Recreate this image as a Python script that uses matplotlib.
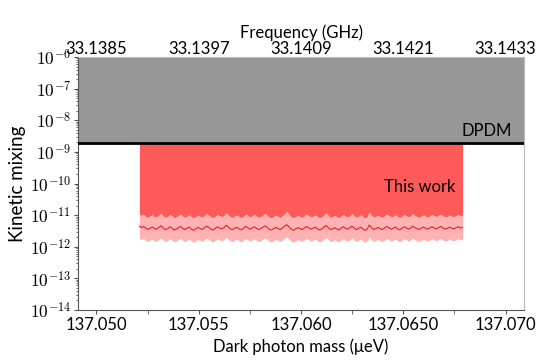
import numpy as np
import matplotlib
matplotlib.use("Agg")
import matplotlib.pyplot as plt

plt.rcParams['font.family'] = ['Lato', 'DejaVu Sans']
plt.rcParams['mathtext.fontset'] = 'cm'

# ---- data ----
xlim = (137.0491, 137.0709)
ylim = (1e-14, 1e-6)
dpdm_limit = 1.9e-9
scan_start = 137.0521
scan_end = 137.0679

median_e12 = [4.5, 4.0, 4.4, 3.8, 3.5, 3.9, 4.2, 3.7, 3.6, 4.1, 4.6, 3.9, 3.5, 3.7, 4.3, 3.9, 3.4, 3.6, 4.0, 4.4,
              3.8, 3.5, 3.9, 4.2, 3.6, 3.3, 3.7, 4.1, 3.8, 3.5, 4.0, 4.5, 4.1, 3.6, 3.4, 3.8, 4.3, 3.9, 3.7, 4.0,
              4.8, 4.2, 3.6, 3.5, 3.9, 4.1, 3.7, 3.4, 3.8, 4.4, 4.0, 3.6, 3.9, 4.3, 3.8, 3.5, 3.7, 4.2, 4.6, 4.0,
              3.5, 3.4, 3.8, 4.1, 3.7, 3.5, 4.0, 4.5, 5.0, 4.2, 3.6, 3.3, 3.7, 4.0, 3.8, 3.5, 3.9, 4.4, 4.0, 3.6,
              3.8, 4.2, 3.7, 3.4, 3.6, 4.1, 4.7, 4.1, 3.5, 3.7, 4.0, 3.6, 3.4, 3.9, 4.3, 3.8, 3.6, 4.0, 4.5, 3.9,
              3.5, 3.8, 4.2, 3.7, 3.3, 3.6, 4.9, 4.0, 3.5, 3.8, 4.1, 3.7, 3.5, 3.9, 4.4, 4.0, 3.6, 3.8, 4.2, 3.7,
              3.4, 3.8, 4.3, 4.0, 3.6, 3.9, 4.5, 4.0, 3.7, 3.5, 3.9, 4.2, 3.8, 3.6, 4.0, 4.3, 3.9, 3.7, 4.1, 4.4,
              3.9, 3.6, 3.8, 4.2, 3.8, 3.7, 4.0, 4.3, 3.9, 4.1]
upper_e12 = [10.8, 9.6, 10.5, 9.0, 8.4, 9.4, 10.2, 8.9, 8.7, 9.9, 11.3, 9.4, 8.4, 8.9, 10.4, 9.4, 8.2, 8.7, 9.6, 10.7,
             9.1, 8.4, 9.4, 10.1, 8.6, 8.0, 8.9, 9.9, 9.1, 8.4, 9.6, 11.0, 9.9, 8.7, 8.2, 9.1, 10.4, 9.4, 8.9, 9.6,
             11.8, 10.1, 8.7, 8.4, 9.4, 9.9, 8.9, 8.2, 9.1, 10.7, 9.6, 8.7, 9.4, 10.4, 9.1, 8.4, 8.9, 10.1, 11.2, 9.6,
             8.4, 8.2, 9.1, 9.9, 8.9, 8.4, 9.6, 11.0, 13.2, 10.1, 8.7, 8.0, 8.9, 9.6, 9.1, 8.4, 9.4, 10.7, 9.6, 8.7,
             9.1, 10.1, 8.9, 8.2, 8.7, 9.9, 11.6, 9.9, 8.4, 8.9, 9.6, 8.7, 8.2, 9.4, 10.4, 9.1, 8.7, 9.6, 11.0, 9.4,
             8.4, 9.1, 10.1, 8.9, 8.0, 8.7, 12.6, 9.6, 8.4, 9.1, 9.9, 8.9, 8.4, 9.4, 10.7, 9.6, 8.7, 9.1, 10.1, 8.9,
             8.2, 9.1, 10.4, 9.6, 8.7, 9.4, 11.0, 9.6, 8.9, 8.4, 9.4, 10.1, 9.1, 8.7, 9.6, 10.4, 9.4, 8.9, 9.9, 10.7,
             9.4, 8.7, 9.1, 10.1, 9.1, 8.9, 9.6, 10.4, 9.4, 9.9]
lower_e12 = [1.88, 1.67, 1.83, 1.58, 1.46, 1.63, 1.75, 1.54, 1.50, 1.71, 1.92, 1.63, 1.46, 1.54, 1.79, 1.63, 1.42, 1.50, 1.67, 1.83,
             1.58, 1.46, 1.63, 1.75, 1.50, 1.38, 1.54, 1.71, 1.58, 1.46, 1.67, 1.88, 1.71, 1.50, 1.42, 1.58, 1.79, 1.63, 1.54, 1.67,
             2.00, 1.75, 1.50, 1.46, 1.63, 1.71, 1.54, 1.42, 1.58, 1.83, 1.67, 1.50, 1.63, 1.79, 1.58, 1.46, 1.54, 1.75, 1.92, 1.67,
             1.46, 1.42, 1.58, 1.71, 1.54, 1.46, 1.67, 1.88, 2.08, 1.75, 1.50, 1.38, 1.54, 1.67, 1.58, 1.46, 1.63, 1.83, 1.67, 1.50,
             1.58, 1.75, 1.54, 1.42, 1.50, 1.71, 1.96, 1.71, 1.46, 1.54, 1.67, 1.50, 1.42, 1.63, 1.79, 1.58, 1.50, 1.67, 1.88, 1.63,
             1.46, 1.58, 1.75, 1.54, 1.38, 1.50, 2.04, 1.67, 1.46, 1.58, 1.71, 1.54, 1.46, 1.63, 1.83, 1.67, 1.50, 1.58, 1.75, 1.54,
             1.42, 1.58, 1.79, 1.67, 1.50, 1.63, 1.88, 1.67, 1.54, 1.46, 1.63, 1.75, 1.58, 1.50, 1.67, 1.79, 1.63, 1.54, 1.71, 1.83,
             1.63, 1.50, 1.58, 1.75, 1.58, 1.54, 1.67, 1.79, 1.63, 1.71]

mass_ticks = [137.050, 137.055, 137.060, 137.065, 137.070]
mass_labels = ['137.050', '137.055', '137.060', '137.0650', '137.070']
freq_labels = ['33.1385', '33.1397', '33.1409', '33.1421', '33.1433']

# ---- plot ----
fig = plt.figure(figsize=(5.54, 3.64), dpi=100)
ax = fig.add_axes([78/554, 1 - 310/364, (524-78)/554, (310-57)/364])

n = len(median_e12)
mass = np.linspace(scan_start, scan_end, n)
med = np.array(median_e12) * 1e-12
up = np.array(upper_e12) * 1e-12
lo = np.array(lower_e12) * 1e-12

ax.axhspan(dpdm_limit, ylim[1], color='#979797', lw=0, zorder=1)
ax.axhline(dpdm_limit, color='black', lw=2, zorder=4)
ax.fill_between(mass, up, dpdm_limit, color='#ff5a5a', lw=0, zorder=2)
ax.fill_between(mass, lo, up, color='#ffb2b2', lw=0, zorder=2)
ax.plot(mass, med, color='#e8202e', lw=0.8, zorder=3)

ax.set_yscale('log')
ax.set_ylim(*ylim)
ax.set_xlim(*xlim)
ax.set_yticks([10.0**k for k in range(-14, -5)])
ax.set_yticklabels([r'$10^{%d}$' % k for k in range(-14, -5)], fontsize=12.5)
ax.set_xticks(mass_ticks)
ax.set_xticklabels(mass_labels, fontsize=12)
ax.set_xticks([137.0525, 137.0575, 137.0625, 137.0675], minor=True)
ax.tick_params(axis='x', which='both', direction='out', length=3, color='#555555', pad=2)
ax.tick_params(axis='y', which='major', length=3, color='#555555', pad=2)
ax.tick_params(axis='y', which='minor', length=1.5, color='#555555')

for s in ['left', 'bottom']:
    ax.spines[s].set_color('#555555')
for s in ['right', 'top']:
    ax.spines[s].set_color('#bbbbbb')

ax.set_xlabel('Dark photon mass (μeV)', fontsize=12, labelpad=4)
ax.set_ylabel('Kinetic mixing', fontsize=13.5, labelpad=3)

top = ax.secondary_xaxis('top')
top.set_xticks(mass_ticks)
top.set_xticklabels(freq_labels, fontsize=12)
top.set_xticks([137.0525, 137.0575, 137.0625, 137.0675], minor=True)
top.tick_params(axis='x', which='both', direction='in', length=3, color='#555555', pad=0)
top.spines['top'].set_visible(False)
top.set_xlabel('Frequency (GHz)', fontsize=12, labelpad=2)

ax.annotate('DPDM', xy=(0.973, dpdm_limit), xycoords=ax.get_yaxis_transform(),
            xytext=(0, 3), textcoords='offset points', ha='right', va='bottom',
            fontsize=12, zorder=5)
ax.text(137.0658, 7.8e-11, 'This work', ha='center', va='center', fontsize=12, zorder=5)

fig.savefig('out.png', dpi=100)
